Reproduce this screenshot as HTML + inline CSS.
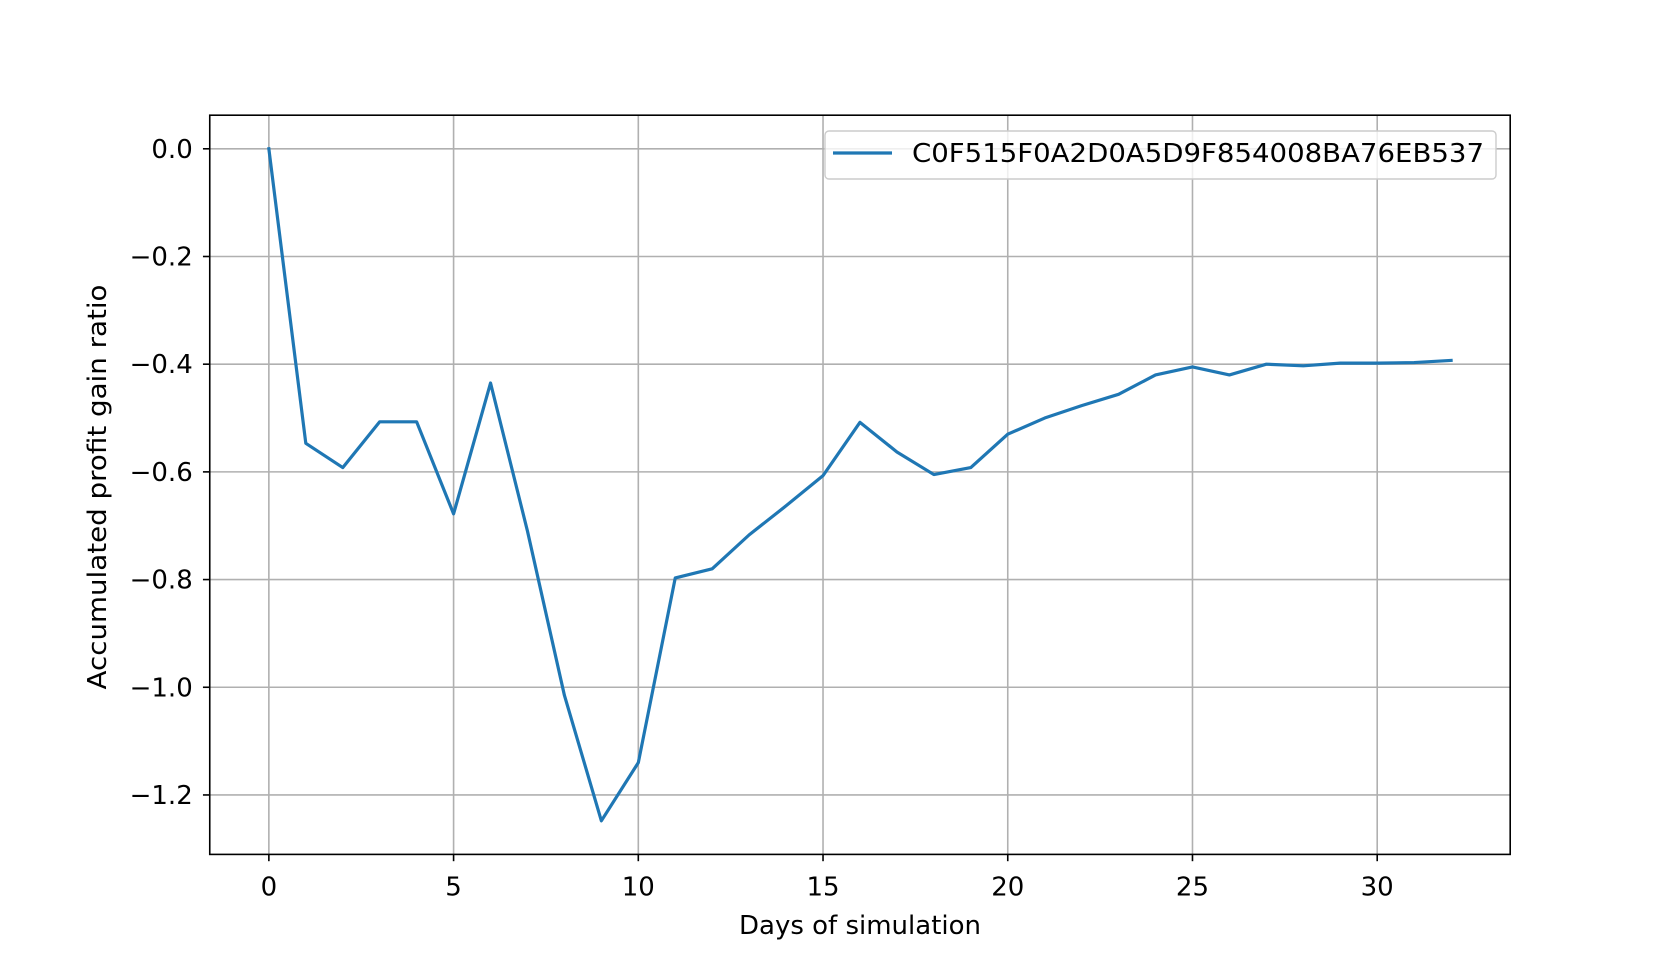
<!DOCTYPE html>
<html><head><meta charset="utf-8"><style>
html,body{margin:0;padding:0;background:#fff;}
svg{display:block;font-family:"DejaVu Sans","Liberation Sans",sans-serif;}
</style></head><body>
<svg id="chart" width="1678" height="960" viewBox="0 0 1678 960">
<g id="grid"></g>
<g id="ticks"></g>
<polyline id="series" fill="none" stroke="#1f77b4" stroke-width="3.2" stroke-linejoin="round" stroke-linecap="square"/>
<rect x="209.75" y="115.2" width="1300.45" height="739.2" fill="none" stroke="#000" stroke-width="1.6"/>
<text x="860" y="934" font-size="26" text-anchor="middle">Days of simulation</text>
<text transform="translate(106,487) rotate(-90)" font-size="26" text-anchor="middle" textLength="405" lengthAdjust="spacingAndGlyphs">Accumulated profit gain ratio</text>
<g>
<rect x="825" y="131" width="671" height="48" rx="4" fill="#fff" fill-opacity="0.8" stroke="#ccc" stroke-width="1.4"/>
<line x1="833" y1="153" x2="892" y2="153" stroke="#1f77b4" stroke-width="3.2"/>
<text x="912" y="162" font-size="26" textLength="572" lengthAdjust="spacingAndGlyphs">C0F515F0A2D0A5D9F854008BA76EB537</text>
</g>
</svg>
<script>
const days = [0,1,2,3,4,5,6,7,8,9,10,11,12,13,14,15,16,17,18,19,20,21,22,23,24,25,26,27,28,29,30,31,32];
const profit = [0,-0.547,-0.592,-0.507,-0.507,-0.678,-0.435,-0.71,-1.015,-1.248,-1.14,-0.797,-0.78,-0.717,-0.663,-0.607,-0.508,-0.563,-0.605,-0.592,-0.53,-0.5,-0.477,-0.456,-0.42,-0.405,-0.42,-0.4,-0.403,-0.398,-0.398,-0.397,-0.393];
const xTicks = [0,5,10,15,20,25,30];
const yTicks = [0,-0.2,-0.4,-0.6,-0.8,-1.0,-1.2];
const yTickLabels = ["0.0","\u22120.2","\u22120.4","\u22120.6","\u22120.8","\u22121.0","\u22121.2"];

const L=209.75,R=1510.2,T=115.2,B=854.4;
const xmin0=Math.min(...days),xmax0=Math.max(...days),xm=(xmax0-xmin0)*0.05;
const ymin0=Math.min(...profit),ymax0=Math.max(...profit),ym=(ymax0-ymin0)*0.05;
const xs=v=>L+(v-(xmin0-xm))/((xmax0+xm)-(xmin0-xm))*(R-L);
const ys=v=>B-(v-(ymin0-ym))/((ymax0+ym)-(ymin0-ym))*(B-T);
const NS="http://www.w3.org/2000/svg";
const grid=document.getElementById('grid'),ticks=document.getElementById('ticks');
function mk(tag,attrs,parent){const e=document.createElementNS(NS,tag);for(const k in attrs)e.setAttribute(k,attrs[k]);parent.appendChild(e);return e;}
xTicks.forEach(v=>{
  const x=xs(v);
  const g=mk('line',{x1:x,x2:x,y1:T,y2:B,stroke:'#b0b0b0','stroke-width':1.6},grid);
  
  
  const t=mk('line',{x1:x,x2:x,y1:B,y2:B+6.8,stroke:'#000','stroke-width':1.6},ticks);
  
  
  const l=mk('text',{x:x,y:B+41,'font-size':26,'text-anchor':'middle'},ticks);
  l.textContent=String(v);
  
  
});
yTicks.forEach((v,i)=>{
  const y=ys(v);
  const g=mk('line',{x1:L,x2:R,y1:y,y2:y,stroke:'#b0b0b0','stroke-width':1.6},grid);
  
  
  const t=mk('line',{x1:L-6.8,x2:L,y1:y,y2:y,stroke:'#000','stroke-width':1.6},ticks);
  
  
  const l=mk('text',{x:L-17,y:y+9,'font-size':26,'text-anchor':'end'},ticks);
  l.textContent=yTickLabels[i];
  
  
});
document.getElementById('series').setAttribute('points',days.map((d,i)=>xs(d)+','+ys(profit[i])).join(' '));
</script>
</body></html>
